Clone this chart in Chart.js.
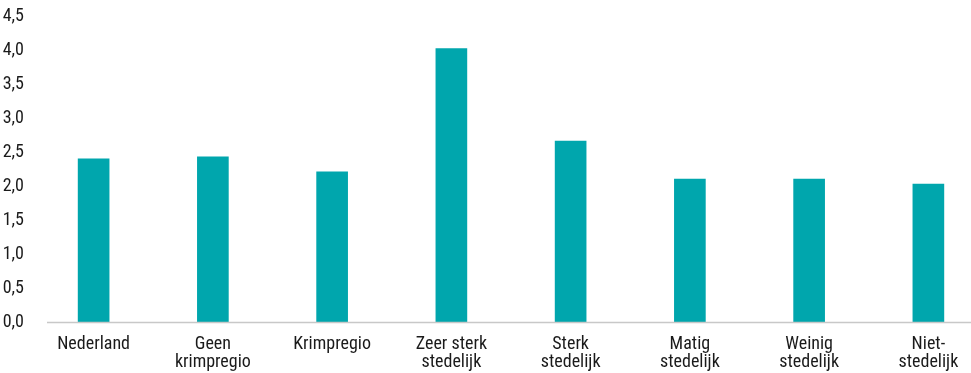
<!DOCTYPE html>
<html>
<head>
<meta charset="utf-8">
<script src="https://cdn.jsdelivr.net/npm/chart.js@4"></script>
<style>
  html, body { margin: 0; padding: 0; background: #fff; overflow: hidden; }
  #wrap { width: 988px; height: 373px; }
</style>
</head>
<body>
<div id="wrap"><canvas id="chart"></canvas></div>
<script>
const categories = [
  'Nederland',
  ['Geen', 'krimpregio'],
  'Krimpregio',
  ['Zeer sterk', 'stedelijk'],
  ['Sterk', 'stedelijk'],
  ['Matig', 'stedelijk'],
  ['Weinig', 'stedelijk'],
  ['Niet-', 'stedelijk']
];
const values = [2.40, 2.43, 2.21, 4.02, 2.66, 2.10, 2.10, 2.03];
const yTicks = [0, 0.5, 1, 1.5, 2, 2.5, 3, 3.5, 4, 4.5];

const FONT = "'Roboto Condensed', 'Liberation Sans Narrow', 'DejaVu Sans Condensed', sans-serif";

// axis line drawn by hand: starts a little right of the plot edge, like the original
const baseLine = {
  id: 'baseLine',
  afterDatasetsDraw(chart) {
    const { ctx, chartArea: { left, right }, scales: { y } } = chart;
    const y0 = y.getPixelForValue(0);
    ctx.save();
    ctx.strokeStyle = '#c8c8c8';
    ctx.lineWidth = 1.5;
    ctx.beginPath();
    ctx.moveTo(left + 13, y0 + 0.5);
    ctx.lineTo(right, y0 + 0.5);
    ctx.stroke();
    ctx.restore();
  }
};

new Chart(document.getElementById('chart'), {
  type: 'bar',
  data: {
    labels: categories,
    datasets: [{
      data: values,
      backgroundColor: '#00a6ad',
      barThickness: 31
    }]
  },
  options: {
    responsive: true,
    maintainAspectRatio: false,
    animation: false,
    layout: { padding: { top: 16, right: 0, left: 0, bottom: 0 } },
    plugins: { legend: { display: false }, tooltip: { enabled: false } },
    scales: {
      x: {
        grid: { display: false },
        border: { display: false },
        afterFit: axis => { axis.height = 51; },
        ticks: {
          color: '#1a1a1a',
          font: { family: FONT, size: 18, lineHeight: 0.97 },
          maxRotation: 0, autoSkip: false, padding: 6
        }
      },
      y: {
        min: 0,
        max: 4.5,
        afterBuildTicks: axis => { axis.ticks = yTicks.map(v => ({ value: v })); },
        afterFit: axis => { axis.width = 34; },
        grid: { display: false },
        border: { display: false },
        ticks: {
          color: '#1a1a1a',
          font: { family: FONT, size: 18 },
          padding: 2,
          callback: v => v.toFixed(1).replace('.', ',')
        }
      }
    }
  },
  plugins: [baseLine]
});
</script>
</body>
</html>
